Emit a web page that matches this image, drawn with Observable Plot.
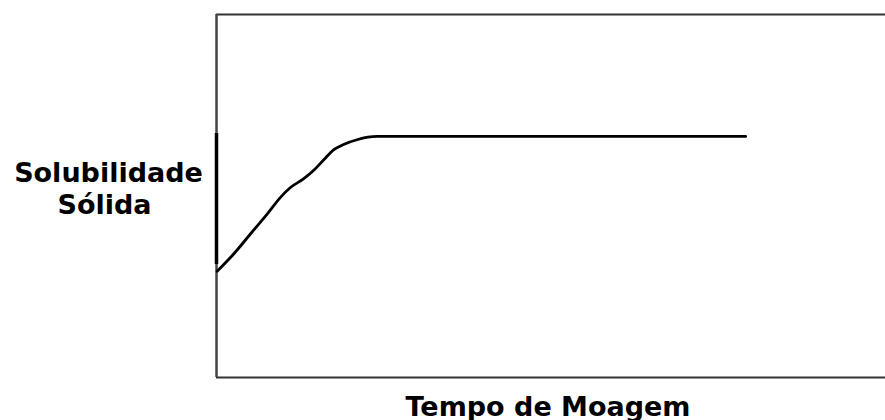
<!DOCTYPE html>
<html>
<head>
<meta charset="utf-8">
<script src="https://cdn.jsdelivr.net/npm/d3@7"></script>
<script src="https://cdn.jsdelivr.net/npm/@observablehq/plot@0.6"></script>
<style>
  html, body { margin: 0; padding: 0; background: #fff; }
</style>
</head>
<body>
<div id="chart"></div>
<script>
// Tempo de moagem (arbitrary units, 0–100)
const tempo = [0.1, 2.6, 5.1, 7.6, 9.6, 11.1, 13.0, 14.5, 16.0, 17.5, 19.0, 21.0, 24.0, 79.1];
// Solubilidade sólida (arbitrary units, 0–100)
const solubilidade = [29.3, 34.1, 39.6, 45.1, 49.7, 52.4, 54.7, 57.0, 59.9, 62.7, 64.2, 65.5, 66.4, 66.4];
// highlighted range on the y axis
const faixaY = [31.1, 67.2];
const yLabelLines = ["Solubilidade", "Sólida"];
const xLabel = "Tempo de Moagem";

const data = tempo.map((t, i) => ({tempo: t, sol: solubilidade[i]}));

const font = "'DejaVu Sans', sans-serif";

const plot = Plot.plot({
  width: 885,
  height: 420,
  marginLeft: 216,
  marginRight: 0,
  marginTop: 14,
  marginBottom: 43,
  style: {background: "#fff", fontFamily: font},
  x: {domain: [0, 100], axis: null},
  y: {domain: [0, 100], axis: null},
  marks: [
    Plot.ruleY([100], {stroke: "#333", strokeWidth: 2}),
    Plot.ruleY([0], {stroke: "#333", strokeWidth: 2}),
    Plot.ruleX([0], {stroke: "#444", strokeWidth: 2.5}),
    Plot.ruleX([0], {y1: faixaY[0], y2: faixaY[1], stroke: "#000", strokeWidth: 3.5}),
    Plot.line(data, {x: "tempo", y: "sol", stroke: "#000", strokeWidth: 2.8, curve: "monotone-x"}),
    Plot.text([yLabelLines[0]], {frameAnchor: "left", dx: -108, dy: -14.5, lineAnchor: "bottom", textAnchor: "middle", fontSize: 27, fontWeight: "bold", fill: "#000"}),
    Plot.text([yLabelLines[1]], {frameAnchor: "left", dx: -112, dy: 17.5, lineAnchor: "bottom", textAnchor: "middle", fontSize: 27, fontWeight: "bold", fill: "#000"}),
    Plot.text([xLabel], {frameAnchor: "bottom", dx: -3, dy: 38, lineAnchor: "bottom", textAnchor: "middle", fontSize: 27, fontWeight: "bold", fill: "#000"})
  ]
});
document.getElementById("chart").appendChild(plot);
</script>
</body>
</html>
